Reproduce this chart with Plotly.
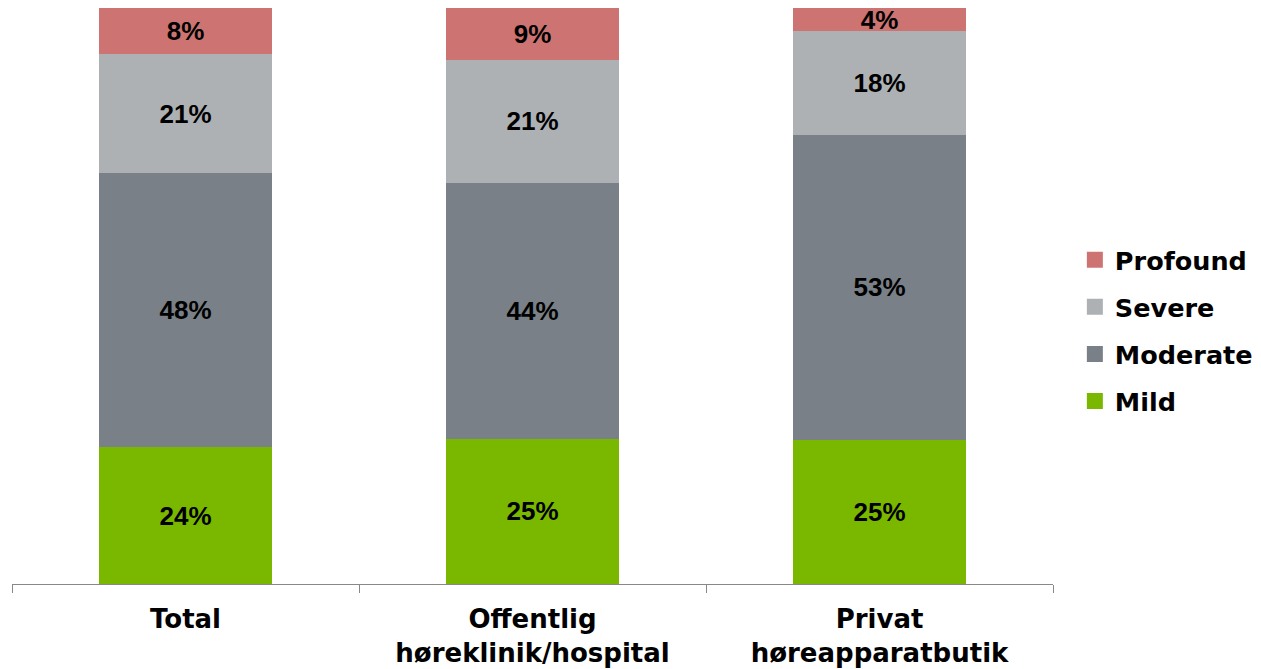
import plotly.graph_objects as go

categories = ["Total", "Offentlig<br>høreklinik/hospital", "Privat<br>høreapparatbutik"]
series_names = ["Mild", "Moderate", "Severe", "Profound"]
mild = [24, 25, 25]
moderate = [48, 44, 53]
severe = [21, 21, 18]
profound = [8, 9, 4]
series_values = [mild, moderate, severe, profound]
colors = ["#7AB800", "#7A8087", "#ADB1B4", "#CD7472"]

fig = go.Figure()
for name, vals, col in zip(series_names, series_values, colors):
    fig.add_trace(go.Bar(
        x=categories, y=vals, name=name,
        marker=dict(color=col, line=dict(width=0)),
        text=[f"{v}%" for v in vals],
        textposition="inside", insidetextanchor="middle",
        textangle=0, constraintext="none",
        textfont=dict(family="Liberation Sans, Arial", size=26, color="black", weight="bold"),
        showlegend=False, hoverinfo="skip",
    ))

# legend entries (larger square swatches)
for i, (name, col) in enumerate(reversed(list(zip(series_names, colors)))):
    fig.add_trace(go.Scatter(
        x=[None], y=[None], mode="markers", name=name,
        marker=dict(symbol="square", size=16, color=col),
        legendgroup=f"g{i}", showlegend=True,
    ))

# page body has an 8px margin, so the figure is offset by (8, 8)
fig.update_layout(
    width=1253, height=661,
    barmode="stack", barnorm="percent", bargap=0.5,
    plot_bgcolor="white", paper_bgcolor="white",
    margin=dict(l=4, r=208, t=0, b=85, autoexpand=False),
    font=dict(family="DejaVu Sans, Verdana", color="black"),
    legend=dict(
        x=1.021, y=0.44, xanchor="left", yanchor="middle",
        traceorder="grouped", tracegroupgap=11,
        font=dict(family="DejaVu Sans, Verdana", size=25.5, color="black", weight="bold"),
        itemsizing="trace", bgcolor="rgba(0,0,0,0)",
    ),
    xaxis=dict(
        showline=True, linecolor="#888888", linewidth=1,
        ticks="outside", tickson="boundaries", ticklen=8, tickcolor="#888888",
        tickfont=dict(family="DejaVu Sans, Verdana", size=26, color="black", weight="bold"),
        ticklabelstandoff=12,
        showgrid=False, automargin=False,
    ),
    yaxis=dict(range=[0, 100], visible=False, showgrid=False, automargin=False),
)

fig.write_html("out.html")
